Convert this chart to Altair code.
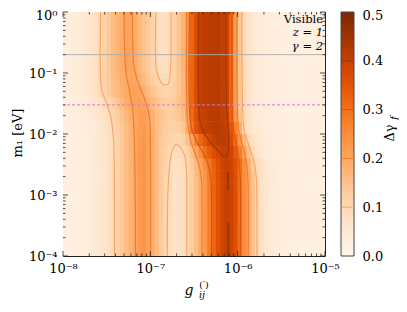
import altair as alt
import pandas as pd

FONT = "DejaVu Serif"

# ---- grid (log10 g, log10 m1) ----
x_edges = [round(-8 + 0.05 * i, 3) for i in range(61)]
y_edges = [-4.0, -2.8, -2.6, -2.4, -2.2, -2.0, -1.8, -1.6, -1.4, -1.2, -1.0, 0.0]

# Delta gamma_f, one list per m1 band (bottom to top), 60 columns in log g
row_b = [0.02, 0.02, 0.025, 0.03, 0.03, 0.035, 0.04, 0.05,
         0.055, 0.065, 0.08, 0.095, 0.115, 0.14, 0.16, 0.18, 0.20, 0.225, 0.235, 0.21, 0.185, 0.16, 0.135, 0.105,
         0.09, 0.075, 0.075, 0.085,
         0.10, 0.13, 0.16, 0.19, 0.23, 0.28, 0.32, 0.36, 0.385, 0.40, 0.39, 0.36,
         0.30, 0.25, 0.20, 0.15, 0.10, 0.075, 0.06, 0.05, 0.04, 0.035,
         0.03, 0.03, 0.025, 0.025, 0.02, 0.02, 0.02, 0.02, 0.02, 0.02]
row_27 = [0.02, 0.02, 0.025, 0.03, 0.03, 0.035, 0.04, 0.05,
          0.055, 0.065, 0.08, 0.095, 0.115, 0.14, 0.16, 0.18, 0.20, 0.225, 0.235, 0.21, 0.185, 0.16, 0.135, 0.105,
          0.09, 0.075, 0.075, 0.085,
          0.10, 0.13, 0.16, 0.195, 0.235, 0.285, 0.325, 0.36, 0.385, 0.40, 0.39, 0.36,
          0.30, 0.25, 0.195, 0.145, 0.10, 0.075, 0.06, 0.05, 0.04, 0.035,
          0.03, 0.03, 0.025, 0.025, 0.02, 0.02, 0.02, 0.02, 0.02, 0.02]
row_25 = [0.02, 0.02, 0.025, 0.03, 0.03, 0.035, 0.04, 0.05,
          0.055, 0.065, 0.08, 0.095, 0.115, 0.14, 0.16, 0.18, 0.20, 0.225, 0.235, 0.21, 0.185, 0.16, 0.135, 0.11,
          0.095, 0.08, 0.08, 0.09,
          0.105, 0.135, 0.165, 0.205, 0.25, 0.29, 0.33, 0.365, 0.39, 0.40, 0.39, 0.36,
          0.30, 0.245, 0.19, 0.13, 0.09, 0.07, 0.055, 0.045, 0.04, 0.035,
          0.03, 0.03, 0.025, 0.025, 0.02, 0.02, 0.02, 0.02, 0.02, 0.02]
row_23 = [0.02, 0.02, 0.025, 0.03, 0.03, 0.035, 0.04, 0.05,
          0.055, 0.065, 0.08, 0.095, 0.115, 0.14, 0.16, 0.18, 0.20, 0.225, 0.235, 0.21, 0.185, 0.16, 0.135, 0.115,
          0.10, 0.09, 0.09, 0.095,
          0.115, 0.15, 0.20, 0.25, 0.30, 0.34, 0.365, 0.385, 0.40, 0.405, 0.39, 0.34,
          0.28, 0.21, 0.15, 0.095, 0.07, 0.055, 0.045, 0.04, 0.035, 0.03,
          0.03, 0.025, 0.025, 0.02, 0.02, 0.02, 0.02, 0.02, 0.02, 0.02]
row_21 = [0.02, 0.02, 0.025, 0.03, 0.03, 0.035, 0.04, 0.05,
          0.055, 0.065, 0.08, 0.095, 0.115, 0.14, 0.16, 0.18, 0.20, 0.22, 0.23, 0.21, 0.185, 0.16, 0.14, 0.125,
          0.115, 0.105, 0.105, 0.12,
          0.15, 0.20, 0.27, 0.32, 0.35, 0.38, 0.40, 0.41, 0.41, 0.405, 0.37, 0.305,
          0.235, 0.17, 0.10, 0.075, 0.06, 0.05, 0.04, 0.035, 0.03, 0.03,
          0.025, 0.025, 0.02, 0.02, 0.02, 0.02, 0.02, 0.02, 0.02, 0.02]
row_19 = [0.02, 0.025, 0.025, 0.03, 0.035, 0.04, 0.045, 0.05,
          0.06, 0.07, 0.085, 0.10, 0.12, 0.14, 0.16, 0.18, 0.20, 0.215, 0.225, 0.205, 0.18, 0.16, 0.145, 0.13,
          0.12, 0.12, 0.125, 0.14,
          0.19, 0.29, 0.355, 0.385, 0.40, 0.41, 0.415, 0.415, 0.41, 0.40, 0.355, 0.27,
          0.19, 0.10, 0.075, 0.06, 0.05, 0.04, 0.035, 0.03, 0.03, 0.025,
          0.025, 0.02, 0.02, 0.02, 0.02, 0.02, 0.02, 0.02, 0.02, 0.02]
row_17 = [0.02, 0.025, 0.03, 0.03, 0.035, 0.04, 0.05, 0.055,
          0.065, 0.075, 0.09, 0.11, 0.13, 0.15, 0.17, 0.19, 0.205, 0.22, 0.215, 0.205, 0.18, 0.16, 0.145, 0.135,
          0.125, 0.13, 0.14, 0.16,
          0.20, 0.31, 0.36, 0.395, 0.405, 0.415, 0.415, 0.415, 0.405, 0.395, 0.33, 0.23,
          0.15, 0.09, 0.07, 0.055, 0.045, 0.04, 0.035, 0.03, 0.03, 0.025,
          0.02, 0.02, 0.02, 0.02, 0.02, 0.02, 0.02, 0.02, 0.02, 0.02]
row_15 = [0.02, 0.025, 0.03, 0.035, 0.04, 0.045, 0.055, 0.065,
          0.075, 0.09, 0.105, 0.125, 0.145, 0.165, 0.185, 0.20, 0.21, 0.215, 0.205, 0.185, 0.165, 0.15, 0.135, 0.125,
          0.125, 0.135, 0.15, 0.17,
          0.21, 0.32, 0.365, 0.40, 0.41, 0.415, 0.415, 0.415, 0.405, 0.39, 0.32, 0.22,
          0.14, 0.09, 0.07, 0.055, 0.045, 0.04, 0.035, 0.03, 0.03, 0.025,
          0.02, 0.02, 0.02, 0.02, 0.02, 0.02, 0.02, 0.02, 0.02, 0.02]
row_13 = [0.025, 0.03, 0.035, 0.04, 0.045, 0.055, 0.065, 0.08,
          0.095, 0.11, 0.13, 0.15, 0.165, 0.18, 0.195, 0.205, 0.21, 0.205, 0.185, 0.165, 0.145, 0.13, 0.115, 0.105,
          0.11, 0.125, 0.145, 0.17,
          0.215, 0.32, 0.365, 0.40, 0.41, 0.415, 0.415, 0.415, 0.405, 0.39, 0.32, 0.22,
          0.14, 0.09, 0.07, 0.055, 0.045, 0.04, 0.035, 0.03, 0.03, 0.025,
          0.02, 0.02, 0.02, 0.02, 0.02, 0.02, 0.02, 0.02, 0.02, 0.02]
row_11 = [0.025, 0.03, 0.035, 0.04, 0.045, 0.055, 0.065, 0.08,
          0.10, 0.115, 0.135, 0.155, 0.17, 0.185, 0.195, 0.205, 0.20, 0.185, 0.165, 0.145, 0.125, 0.11, 0.095, 0.095,
          0.10, 0.12, 0.145, 0.17,
          0.22, 0.32, 0.365, 0.40, 0.41, 0.415, 0.415, 0.415, 0.405, 0.39, 0.32, 0.22,
          0.14, 0.09, 0.07, 0.055, 0.045, 0.04, 0.035, 0.03, 0.03, 0.025,
          0.02, 0.02, 0.02, 0.02, 0.02, 0.02, 0.02, 0.02, 0.02, 0.02]
row_t = [0.025, 0.03, 0.035, 0.04, 0.045, 0.055, 0.065, 0.08,
         0.10, 0.12, 0.14, 0.16, 0.175, 0.19, 0.21, 0.205, 0.19, 0.17, 0.15, 0.135, 0.115, 0.095, 0.08, 0.08,
         0.095, 0.12, 0.145, 0.175,
         0.22, 0.32, 0.365, 0.40, 0.41, 0.415, 0.415, 0.415, 0.405, 0.39, 0.32, 0.22,
         0.14, 0.09, 0.07, 0.055, 0.045, 0.04, 0.035, 0.03, 0.03, 0.025,
         0.02, 0.02, 0.02, 0.02, 0.02, 0.02, 0.02, 0.02, 0.02, 0.02]
field_rows = [row_b, row_27, row_25, row_23, row_21, row_19, row_17, row_15, row_13, row_11, row_t]

# contour paths (log10 g, log10 m1) and their levels
c_left_01 = [(-7.57, 0), (-7.57, -1.1), (-7.557, -1.28), (-7.50, -1.5), (-7.455, -1.7), (-7.43, -1.95),
             (-7.42, -2.1), (-7.412, -2.6), (-7.41, -4)]
c_left_02a = [(-7.30, 0), (-7.298, -0.46), (-7.278, -1.0), (-7.233, -1.33), (-7.202, -1.61), (-7.183, -2.1),
              (-7.171, -3.25), (-7.17, -4)]
c_left_02b = [(-7.205, 0), (-7.202, -0.46), (-7.187, -0.9), (-7.137, -1.17), (-7.061, -1.44), (-7.011, -1.72),
              (-7.0, -2.1), (-6.996, -4)]
c_upper_u = [(-6.938, 0), (-6.938, -0.85), (-6.93, -0.95), (-6.908, -1.06), (-6.87, -1.169), (-6.82, -1.197),
             (-6.79, -1.17), (-6.775, -1.06), (-6.766, -0.9), (-6.763, 0)]
c_lower_u = [(-6.805, -4), (-6.80, -3.0), (-6.786, -2.64), (-6.767, -2.37), (-6.74, -2.24), (-6.706, -2.169),
             (-6.67, -2.2), (-6.63, -2.28), (-6.603, -2.37), (-6.585, -2.64), (-6.583, -3.0), (-6.583, -4)]
c_rl_02 = [(-6.583, 0), (-6.578, -1.7), (-6.56, -1.95), (-6.53, -2.15), (-6.48, -2.35), (-6.435, -2.55),
           (-6.415, -2.75), (-6.41, -3.0), (-6.41, -4)]
c_rl_03 = [(-6.553, 0), (-6.548, -1.7), (-6.52, -1.95), (-6.46, -2.15), (-6.38, -2.35), (-6.33, -2.55),
           (-6.305, -2.75), (-6.30, -3.0), (-6.30, -4)]
c_r_04 = [(-6.45, 0), (-6.447, -1.6), (-6.43, -1.8), (-6.39, -1.97), (-6.31, -2.14), (-6.22, -2.28),
          (-6.16, -2.37), (-6.125, -2.36), (-6.105, -2.25), (-6.10, -2.05), (-6.11, -1.85), (-6.125, -1.65),
          (-6.133, 0)]
c_rr_03 = [(-6.064, 0), (-6.06, -1.7), (-6.045, -1.95), (-6.02, -2.15), (-5.995, -2.35), (-5.978, -2.55),
           (-5.97, -2.75), (-5.97, -4)]
c_rr_02 = [(-6.007, 0), (-6.0, -1.7), (-5.985, -1.95), (-5.95, -2.15), (-5.915, -2.35), (-5.893, -2.55),
           (-5.883, -2.75), (-5.88, -4)]
c_rr_01 = [(-5.95, 0), (-5.94, -1.7), (-5.925, -1.95), (-5.88, -2.15), (-5.835, -2.35), (-5.80, -2.55),
           (-5.785, -2.75), (-5.78, -4)]
contours = [(0.1, c_left_01), (0.2, c_left_02a), (0.2, c_left_02b), (0.1, c_upper_u), (0.1, c_lower_u),
            (0.2, c_rl_02), (0.3, c_rl_03), (0.4, c_r_04), (0.3, c_rr_03), (0.2, c_rr_02), (0.1, c_rr_01)]
slivers = [[(-6.11, -2.62), (-6.11, -2.92)], [(-6.107, -3.44), (-6.107, -4.0)]]
levels = [0.1, 0.2, 0.3, 0.4]
level_colors = ["#f9a464", "#f07a2a", "#d9560e", "#9c3505"]

# matplotlib "Oranges" colour ramp
oranges = ["#fff5eb", "#fee6ce", "#fdd0a2", "#fdae6b", "#fd8d3c", "#f16913", "#d94801", "#a63603", "#7f2704"]
vmin, vmax = 0.0, 0.5

m_grey = 0.2
m_pink = 0.03
notes = ["Visible", "z = 1", "γ = 2"]
x_major = [1e-8, 1e-7, 1e-6, 1e-5]
y_major = [1e-4, 1e-3, 1e-2, 1e-1, 1.0]
cbar_ticks = [0.0, 0.1, 0.2, 0.3, 0.4, 0.5]

W, H = 262, 244
ov = 0.008

recs = []
for r, vals in enumerate(field_rows):
    for i, v in enumerate(vals):
        recs.append(dict(x=10 ** x_edges[i], x2=10 ** (x_edges[i + 1] + ov),
                         y=10 ** y_edges[r], y2=10 ** (y_edges[r + 1] + ov), v=v))
heat_df = pd.DataFrame(recs)

crec = []
for k, (lev, pts) in enumerate(contours):
    for j, (lx, ly) in enumerate(pts):
        crec.append(dict(cid=k, level=lev, o=j, x=10 ** lx, y=10 ** ly))
cont_df = pd.DataFrame(crec)
srec = []
for k, pts in enumerate(slivers):
    for j, (lx, ly) in enumerate(pts):
        srec.append(dict(cid=k, o=j, x=10 ** lx, y=10 ** ly))
sl_df = pd.DataFrame(srec)

xs = alt.Scale(type="log", domain=[1e-8, 1e-5], nice=False)
ys = alt.Scale(type="log", domain=[1e-4, 1.0], nice=False)
n = len(oranges) - 1
fill_scale = alt.Scale(type="linear", domain=[vmin + (vmax - vmin) * k / n for k in range(n + 1)],
                       range=oranges, interpolate="rgb", clamp=True)
stroke_scale = alt.Scale(domain=levels, range=level_colors)

lab_expr = ("datum.value < 3e-8 ? '10⁻⁸' : datum.value < 3e-7 ? '10⁻⁷' : datum.value < 3e-6 ? '10⁻⁶' : "
            "datum.value < 3e-5 ? '10⁻⁵' : datum.value < 3e-4 ? '10⁻⁴' : datum.value < 3e-3 ? '10⁻³' : "
            "datum.value < 3e-2 ? '10⁻²' : datum.value < 0.3 ? '10⁻¹' : '10⁰'")

xaxis = alt.Axis(values=x_major, labelExpr=lab_expr, ticks=False, domain=False, grid=False, title=None,
                 labelFont=FONT, labelFontSize=13, labelColor="black", labelPadding=6,
                 labelFlush=False, labelOverlap=False)
yaxis = alt.Axis(values=y_major, labelExpr=lab_expr, ticks=False, domain=False, grid=False, title=None,
                 labelFont=FONT, labelFontSize=13, labelColor="black", labelPadding=6,
                 labelFlush=False, labelOverlap=False,
                 labelOffset={"condition": {"test": "datum.value >= 0.5", "value": 3}, "value": 0})

heat = alt.Chart(heat_df).mark_rect(clip=True).encode(
    x=alt.X("x:Q", scale=xs, axis=xaxis), x2="x2:Q",
    y=alt.Y("y:Q", scale=ys, axis=yaxis), y2="y2:Q",
    fill=alt.Fill("v:Q", scale=fill_scale, legend=None))

lines = alt.Chart(cont_df).mark_line(interpolate="catmull-rom", strokeWidth=1.1, clip=True).encode(
    x="x:Q", y="y:Q", detail="cid:N", order="o:Q",
    stroke=alt.Stroke("level:O", scale=stroke_scale, legend=None))

sl = alt.Chart(sl_df).mark_line(strokeWidth=2, color="#9c3505", clip=True).encode(
    x="x:Q", y="y:Q", detail="cid:N", order="o:Q")

grey = alt.Chart(pd.DataFrame({"y": [m_grey]})).mark_rule(color="#a9a9a9", strokeWidth=0.9).encode(y="y:Q")
pink = alt.Chart(pd.DataFrame({"y": [m_pink]})).mark_rule(color="#d67ad0", strokeWidth=1,
                                                          strokeDash=[3, 2]).encode(y="y:Q")

one = pd.DataFrame({"a": [0]})


def txt(s, px, py, size=13, angle=0, align="center", style="normal", baseline="middle"):
    return alt.Chart(one).mark_text(text=s, font=FONT, fontSize=size, angle=angle, align=align,
                                    baseline=baseline, fontStyle=style, color="black").encode(
        x=alt.value(px), y=alt.value(py))


def ticks_x(vals, yv, y2v):
    return alt.Chart(pd.DataFrame({"x": vals})).mark_rule(color="#222", strokeWidth=0.8).encode(
        x="x:Q", y=alt.value(yv), y2=alt.value(y2v))


def ticks_y(vals, xv, x2v):
    return alt.Chart(pd.DataFrame({"y": vals})).mark_rule(color="#222", strokeWidth=0.8).encode(
        y="y:Q", x=alt.value(xv), x2=alt.value(x2v))


x_minor = [k * 10.0 ** e for e in (-8, -7, -6) for k in range(2, 10)]
y_minor = [k * 10.0 ** e for e in (-4, -3, -2, -1) for k in range(2, 10)]

main = alt.layer(
    heat, lines, sl, grey, pink,
    ticks_x(x_major, H, H - 5), ticks_x(x_major, 0, 5),
    ticks_x(x_minor, H, H - 2.5), ticks_x(x_minor, 0, 2.5),
    ticks_y(y_major, 0, 5), ticks_y(y_major, W, W - 5),
    ticks_y(y_minor, 0, 2.5), ticks_y(y_minor, W, W - 2.5),
    txt(notes[0], 260, 8, size=11.5, align="right"),
    txt(notes[1], 260, 21, size=11.5, align="right", style="italic"),
    txt(notes[2], 260, 35, size=11.5, align="right", style="italic"),
    txt("m₁ [eV]", -45, 121, angle=270),
    txt("g", 126, 283, size=14, style="italic", baseline="alphabetic"),
    txt("(′)", 141, 276, size=9.5, baseline="alphabetic"),
    txt("ij", 139, 286, size=9.5, style="italic", baseline="alphabetic"),
    txt("Δγ", 327, 121, angle=270),
    txt("f", 331, 106, size=10, angle=270, style="italic"),
)

# colour bar on its own linear y scale
CB_X0, CB_X1 = 278, 291
cys = alt.Scale(type="linear", domain=[vmin, vmax], nice=False)
cbar_axis = alt.Axis(orient="right", offset=CB_X1 - W, values=cbar_ticks, format=".1f", ticks=False,
                     domain=False, grid=False, title=None, labelFont=FONT, labelFontSize=13,
                     labelColor="black", labelPadding=8, labelFlush=False, labelOverlap=False,
                     labelOffset={"condition": {"test": "datum.value >= 0.5", "value": 3}, "value": 0})
grad = alt.LinearGradient(gradient="linear", x1=0, x2=0, y1=1, y2=0,
                          stops=[alt.GradientStop(offset=k / n, color=c) for k, c in enumerate(oranges)])
cb_rect = alt.Chart(one).mark_rect(fill=grad, stroke="#444", strokeWidth=1).encode(
    y=alt.Y("lo:Q", scale=cys, axis=cbar_axis), y2="hi:Q",
    x=alt.value(CB_X0), x2=alt.value(CB_X1)).transform_calculate(lo=str(vmin), hi=str(vmax))
cb_lines = alt.Chart(pd.DataFrame({"level": levels})).mark_rule(strokeWidth=1).encode(
    y=alt.Y("level:Q", scale=cys), x=alt.value(CB_X0 + 0.5), x2=alt.value(CB_X1 - 0.5),
    stroke=alt.Stroke("level:O", scale=stroke_scale, legend=None))
cbar = alt.layer(cb_rect, cb_lines)

chart = alt.layer(main, cbar).resolve_scale(y="independent").properties(
    width=W, height=H,
    padding={"left": 55, "top": 4, "right": 74, "bottom": 44},
    autosize=alt.AutoSizeParams(type="none"),
).configure_view(stroke="#222", strokeWidth=1)

chart.save("out.html", embed_options={"renderer": "svg", "actions": False})
